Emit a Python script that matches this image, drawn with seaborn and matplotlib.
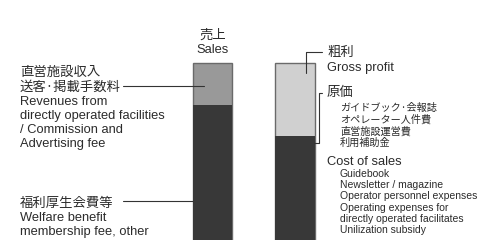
import pandas as pd
import matplotlib.pyplot as plt
import seaborn as sns
from matplotlib.lines import Line2D

# data
bars = ["Sales", "Cost"]
totals = [100, 100]
base_values = [77, 60]          # welfare fee / cost of sales
top_colors = ["#999999", "#d0d0d0"]
base_color = "#383838"

left_top_jp = ["直営施設収入", "送客·掲載手数料"]
left_top_en = ["Revenues from", "directly operated facilities", "/ Commission and", "Advertising fee"]
left_bottom_jp = ["福利厚生会費等"]
left_bottom_en = ["Welfare benefit", "membership fee, other"]
cost_items_jp = ["ガイドブック·会報誌", "オペレーター人件費", "直営施設運営費", "利用補助金"]
cost_items_en = ["Guidebook", "Newsletter / magazine", "Operator personnel expenses",
                 "Operating expenses for", "directly operated facilitates", "Unilization subsidy"]

sns.set_style("white")
JP = ["Noto Sans CJK JP", "DejaVu Sans"]
EN = ["Liberation Sans", "DejaVu Sans"]
TXT = "#2b2b2b"

W, H = 489, 240
fig = plt.figure(figsize=(W / 100, H / 100), dpi=100)
ax = fig.add_axes([0, 0, 1, 1])

df_tot = pd.DataFrame({"bar": bars, "value": totals})
df_base = pd.DataFrame({"bar": bars, "value": base_values})
sns.barplot(x="bar", y="value", hue="bar", data=df_tot, palette=top_colors, legend=False,
            width=0.473, edgecolor="#6a6a6a", linewidth=1, ax=ax)
sns.barplot(x="bar", y="value", hue="bar", data=df_base, palette=[base_color, base_color],
            legend=False, width=0.473, edgecolor=base_color, linewidth=0, ax=ax)

# bar 1 centre at 212.5 px, 82.5 px between bars
ax.set_xlim(-212.5 / 82.5, (W - 212.5) / 82.5)
ax.set_ylim(3, 3 + 97 / 0.7375)
ax.axis("off")


def P(x, y):
    return x / W, 1 - y / H


def txt(x, y, s, fam, size, ha="left"):
    fig.text(*P(x, y), s, family=fam, fontsize=size, color=TXT, ha=ha, va="center")


def line(pts):
    xs = [p[0] / W for p in pts]
    ys = [1 - p[1] / H for p in pts]
    fig.add_artist(Line2D(xs, ys, color="#333333", lw=0.8))


# header
txt(213, 35, "売上", JP, 9.6, ha="center")
txt(213, 50, "Sales", EN, 9.3, ha="center")

# left labels
for i, s in enumerate(left_top_jp):
    txt(20, 72 + 15 * i, s, JP, 9.6)
for i, s in enumerate(left_top_en):
    txt(20, 102 + 14 * i, s, EN, 9.3)
txt(20, 203, left_bottom_jp[0], JP, 9.6)
for i, s in enumerate(left_bottom_en):
    txt(20, 218 + 14 * i, s, EN, 9.3)
line([(123, 86), (204, 86)])
line([(123, 201), (193, 201)])

# right labels
txt(327, 52, "粗利", JP, 9.6)
txt(327, 68, "Gross profit", EN, 9.3)
txt(327, 92, "原価", JP, 9.6)
for i, s in enumerate(cost_items_jp):
    txt(340, 108 + 11.7 * i, s, JP, 7.3)
txt(327, 162, "Cost of sales", EN, 9.3)
for i, s in enumerate(cost_items_en):
    txt(340, 174 + 11.2 * i, s, EN, 7.5)
line([(306, 73), (306, 52), (322, 52)])
line([(322, 93), (319, 93), (319, 143), (314, 143)])

plt.savefig("out.png", dpi=100)
